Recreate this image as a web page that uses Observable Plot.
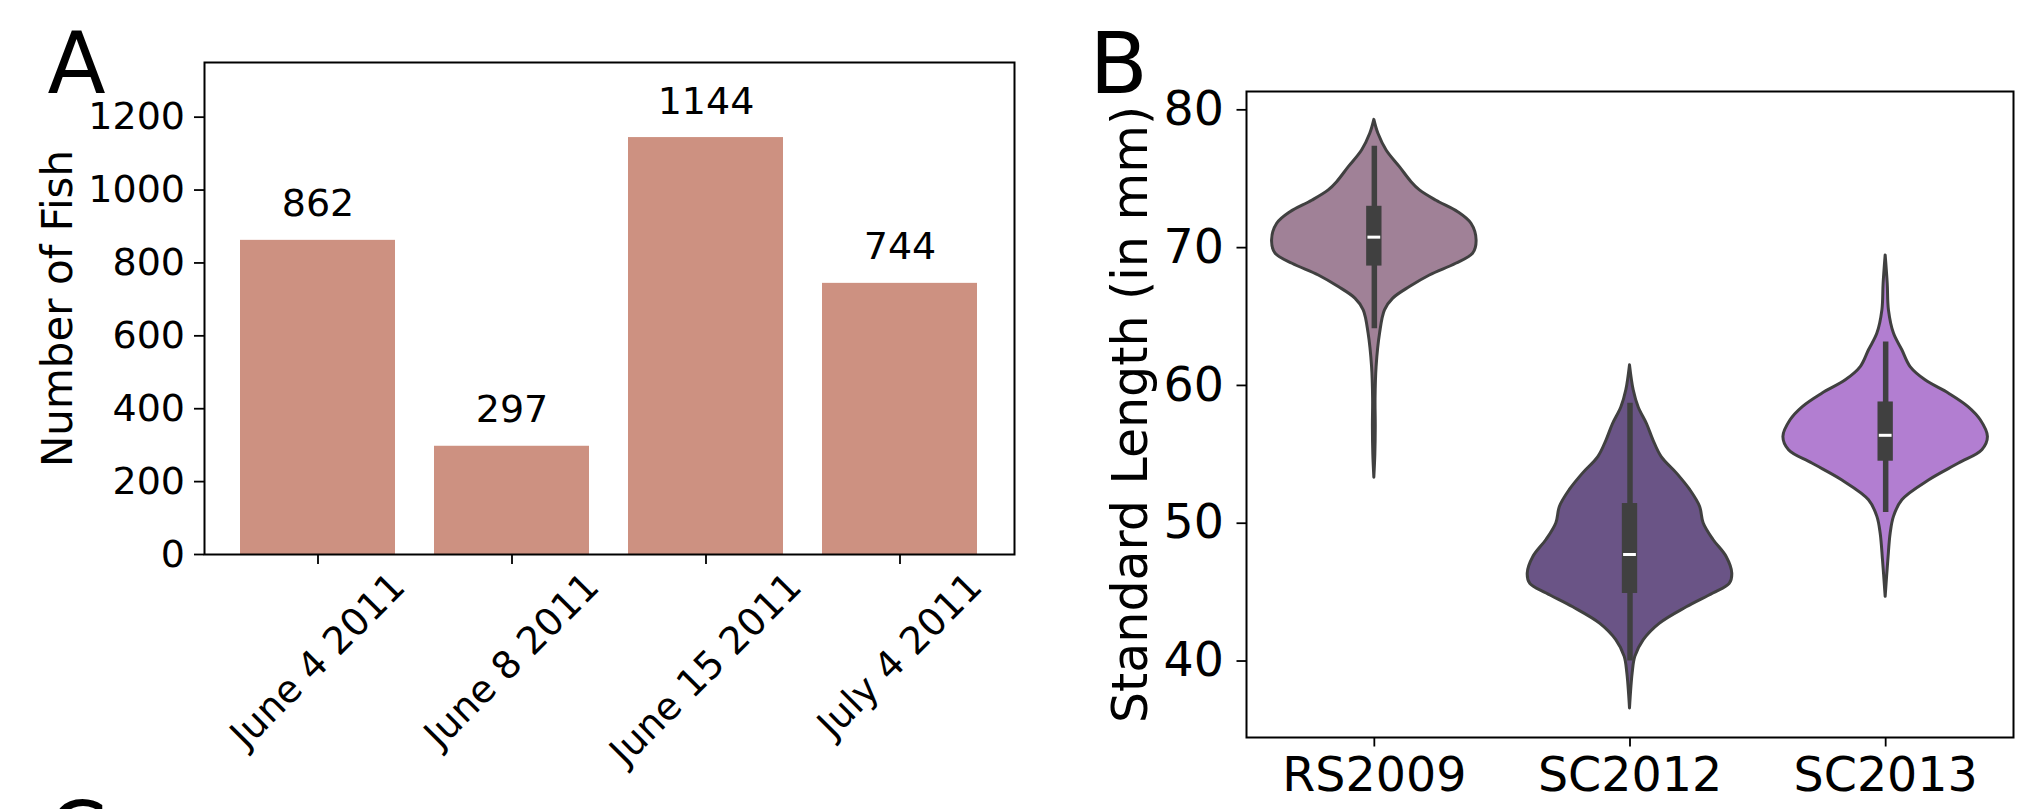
<!DOCTYPE html>
<html><head><meta charset="utf-8">
<script src="https://cdn.jsdelivr.net/npm/d3@7"></script>
<script src="https://cdn.jsdelivr.net/npm/@observablehq/plot@0.6"></script>
<style>
html,body{margin:0;padding:0;background:#fff;}
#wrap{position:relative;width:2019px;height:809px;overflow:hidden;background:#fff;}
#pa,#pb{position:absolute;top:0;}
#pa{left:0;} #pb{left:1040px;}
</style></head><body><div id="wrap"><div id="pa"></div><div id="pb"></div></div>
<script>
const FONT = "DejaVu Sans";

// ---------- Panel A data ----------
const dates = ["June 4 2011", "June 8 2011", "June 15 2011", "July 4 2011"];
const fishCounts = [862, 297, 1144, 744];
const countTicks = [0, 200, 400, 600, 800, 1000, 1200];

// ---------- Panel B data ----------
const groups = ["RS2009", "SC2012", "SC2013"];
const groupColors = ["#a08197", "#6a5486", "#b27ed1"];
const lengthTicks = [40, 50, 60, 70, 80];
// violin outlines: length (mm) and relative half-width
const rsLen = [79.27, 78.26, 77.05, 75.84, 74.75, 74.15, 73.4, 72.57, 71.73, 70.52, 69.56, 68.83, 67.98, 67.14, 66.3, 65.45, 63.76, 61.33, 59.0, 57.0, 55.0, 53.3];
const rsDen = [0, 0.04, 0.12, 0.25, 0.364, 0.446, 0.608, 0.82, 0.95, 1.0, 0.966, 0.80, 0.543, 0.348, 0.185, 0.104, 0.056, 0.022, 0.012, 0.014, 0.01, 0];
const sc12Len = [61.46, 59.65, 58.4, 57.2, 56.0, 54.8, 53.6, 52.4, 51.2, 50.0, 48.8, 47.55, 46.35, 45.6, 44.9, 43.9, 42.7, 41.5, 40.3, 39.1, 36.56];
const sc12Den = [0, 0.036, 0.085, 0.166, 0.23, 0.31, 0.46, 0.59, 0.685, 0.72, 0.815, 0.945, 1.0, 0.975, 0.815, 0.555, 0.29, 0.133, 0.052, 0.026, 0];
const sc13Len = [69.43, 67.38, 65.45, 63.76, 62.55, 61.33, 60.37, 59.4, 58.43, 57.47, 56.26, 55.3, 54.33, 53.1, 51.67, 50.46, 49.25, 47.3, 44.66];
const sc13Den = [0, 0.02, 0.032, 0.081, 0.163, 0.244, 0.39, 0.62, 0.81, 0.93, 1.0, 0.945, 0.717, 0.423, 0.163, 0.081, 0.049, 0.026, 0];
// inner box plots
const q1 = [68.66, 44.9, 54.5];
const q3 = [73.0, 51.43, 58.8];
const medians = [70.76, 47.73, 56.38];
const whiskLo = [64.12, 40.0, 50.78];
const whiskHi = [77.36, 58.7, 63.15];

// ---------- helpers ----------
const canvas = document.createElement("canvas");
const ctx = canvas.getContext("2d");
function textWidth(s, size) { ctx.font = `${size}px "${FONT}"`; return ctx.measureText(s).width; }

// ---------- Panel A ----------
const barData = dates.map((d, i) => ({date: d, count: fishCounts[i]}));
const fsA = 38;
const labelMarks = dates.map((d) => {
  const w = textWidth(d, fsA);
  return Plot.text([d], {
    x: (v) => v, frameAnchor: "bottom", rotate: -45, textAnchor: "middle", lineAnchor: "middle",
    dy: 10 + (w + 1.164 * fsA) * 0.3536, fontSize: fsA, fill: "black"
  });
});

const plotA = Plot.plot({
  width: 1040, height: 809,
  marginLeft: 204, marginRight: 26, marginTop: 62, marginBottom: 255,
  style: {fontFamily: FONT, background: "white", color: "black", overflow: "hidden"},
  x: {domain: dates, paddingInner: 0.2, paddingOuter: 0.1876, label: null},
  y: {domain: [0, 1350], label: null},
  marks: [
    Plot.barY(barData, {x: "date", y: "count", fill: "#cd9181"}),
    Plot.text(barData, {x: "date", y: "count", text: (d) => String(d.count), dy: -24, lineAnchor: "bottom", fontSize: fsA, fill: "black"}),
    Plot.frame({stroke: "black", strokeWidth: 2}),
    Plot.axisY({ticks: countTicks, tickFormat: (d) => String(d), tickSize: 10, tickPadding: 9.5, fontSize: fsA, label: null, strokeWidth: 1.8}),
    Plot.axisX({tickSize: 10, tickFormat: () => "", label: null, strokeWidth: 1.8}),
    ...labelMarks,
    Plot.text(["Number of Fish"], {frameAnchor: "left", rotate: -90, textAnchor: "middle", lineAnchor: "bottom", dx: -133, fontSize: 42, fill: "black"}),
    Plot.text(["A"], {frameAnchor: "top-left", textAnchor: "start", lineAnchor: "bottom", dx: -157, dy: 30, fontSize: 85, fill: "black"}),
    Plot.text(["C"], {frameAnchor: "bottom-left", textAnchor: "start", lineAnchor: "bottom", dx: -157, dy: 308, fontSize: 85, fill: "black"})
  ]
});
document.getElementById("pa").append(plotA);

// ---------- Panel B ----------
const outlines = [[rsLen, rsDen], [sc12Len, sc12Den], [sc13Len, sc13Den]];
const violinRows = outlines.flatMap(([lens, dens], i) => lens.map((v, k) => ({group: groups[i], i, len: v, den: dens[k]})));
const boxRows = groups.map((g, i) => ({group: g, i, q1: q1[i], q3: q3[i], med: medians[i], lo: whiskLo[i], hi: whiskHi[i]}));
const fsB = 47.5;

const plotB = Plot.plot({
  width: 979, height: 809,
  marginLeft: 206, marginRight: 6, marginTop: 91, marginBottom: 72,
  style: {fontFamily: FONT, background: "white", color: "black"},
  x: {domain: [-0.5, 2.5], label: null},
  y: {domain: [34.45, 81.33], label: null},
  color: {domain: groups, range: groupColors},
  marks: [
    Plot.areaX(violinRows, {y: "len", x1: (d) => d.i - 0.4 * d.den, x2: (d) => d.i + 0.4 * d.den, z: "group", fill: "group", stroke: "#404040", strokeWidth: 3, curve: "catmull-rom"}),
    Plot.ruleX(boxRows, {x: "i", y1: "lo", y2: "hi", stroke: "#404040", strokeWidth: 5.5}),
    Plot.rect(boxRows, {x1: (d) => d.i - 0.03, x2: (d) => d.i + 0.03, y1: "q1", y2: "q3", fill: "#404040"}),
    Plot.ruleY(boxRows, {y: "med", x1: (d) => d.i - 0.025, x2: (d) => d.i + 0.025, stroke: "white", strokeWidth: 3}),
    Plot.frame({stroke: "black", strokeWidth: 2}),
    Plot.axisY({ticks: lengthTicks, tickFormat: (d) => String(d), tickSize: 9.5, tickPadding: 13, fontSize: fsB, label: null, strokeWidth: 1.8}),
    Plot.axisX({ticks: [0, 1, 2], tickFormat: (i) => groups[i], tickSize: 9.5, tickPadding: 10, fontSize: fsB, label: null, strokeWidth: 1.8}),
    Plot.text(["Standard Length (in mm)"], {frameAnchor: "left", rotate: -90, textAnchor: "middle", lineAnchor: "bottom", dx: -100, fontSize: 49, fill: "black"}),
    Plot.text(["B"], {frameAnchor: "top-left", textAnchor: "start", lineAnchor: "bottom", dx: -157, dy: 1, fontSize: 85, fill: "black"})
  ]
});
document.getElementById("pb").append(plotB);
</script>
</body></html>
